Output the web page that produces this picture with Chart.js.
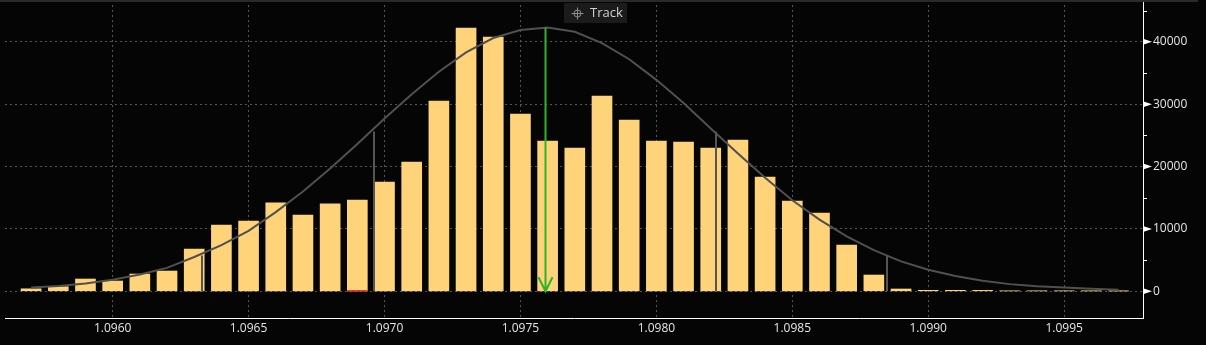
<!DOCTYPE html>
<html>
<head>
<meta charset="utf-8">
<script src="https://cdn.jsdelivr.net/npm/chart.js@4"></script>
<style>
  html, body { margin: 0; padding: 0; background: #050505; }
  #wrap { width: 1206px; height: 345px; }
</style>
</head>
<body>
<div id="wrap"><canvas id="c" width="1206" height="345"></canvas></div>
<script>
// price bins (bar centres)
const binCenters = [
  1.0957, 1.0958, 1.0959, 1.0960, 1.0961, 1.0962, 1.0963, 1.0964, 1.0965, 1.0966,
  1.0967, 1.0968, 1.0969, 1.0970, 1.0971, 1.0972, 1.0973, 1.0974, 1.0975, 1.0976,
  1.0977, 1.0978, 1.0979, 1.0980, 1.0981, 1.0982, 1.0983, 1.0984, 1.0985, 1.0986,
  1.0987, 1.0988, 1.0989, 1.0990, 1.0991, 1.0992, 1.0993, 1.0994, 1.0995, 1.0996,
  1.0997
];
// volume per bin
const counts = [
  400, 740, 1970, 1650, 2770, 3250, 6780, 10620, 11270, 14200,
  12230, 14040, 14630, 17520, 20720, 30500, 42200, 40750, 28410, 24090,
  22970, 31300, 27450, 24090, 23930, 22970, 24250, 18320, 14470, 12550,
  7420, 2610, 370, 160, 160, 150, 60, 60, 60, 50,
  40
];
// fitted normal curve, read at each bin
const fitCurve = [
  600, 850, 1250, 1850, 2700, 3750, 5500, 7400, 9700, 12700,
  16000, 19700, 23600, 27700, 31600, 35200, 38300, 40600, 41900, 42300,
  41600, 39800, 37200, 33900, 30200, 26100, 22100, 18200, 14600, 11500,
  8800, 6600, 4800, 3450, 2450, 1700, 1150, 800, 600, 420,
  260
];
// +-1 / +-2 sigma markers
const sigmaX = [1.09633, 1.09696, 1.09822, 1.09885];
const sigmaY = [5750, 25600, 25600, 5750];
const meanX = 1.09759, meanY = 42300;
const flaggedBin = 1.0969;

const xTicks = [1.0960, 1.0965, 1.0970, 1.0975, 1.0980, 1.0985, 1.0990, 1.0995];
const yTicks = [0, 10000, 20000, 30000, 40000];
const yMinor = [5000, 15000, 25000, 35000, 45000];

const FONT = "'Open Sans', 'DejaVu Sans', sans-serif";

function noPad(s) {
  s.paddingTop = 0; s.paddingBottom = 0;
  s.paddingLeft = 0; s.paddingRight = 0;
}

// ── overlays: sigma lines, mean arrow, axis arrows, Track button ──
const overlay = {
  id: "overlay",
  afterDatasetsDraw(chart) {
    const { ctx, scales: { x, y } } = chart;
    ctx.save();
    const y0 = y.getPixelForValue(0);

    // flagged bin base
    ctx.strokeStyle = "#e03030";
    ctx.lineWidth = 1.5;
    const fx = x.getPixelForValue(flaggedBin);
    ctx.beginPath(); ctx.moveTo(fx - 10, y0 - 0.5); ctx.lineTo(fx + 10, y0 - 0.5); ctx.stroke();

    ctx.strokeStyle = "#555";
    ctx.lineWidth = 2;
    sigmaX.forEach((sx, i) => {
      const px = Math.round(x.getPixelForValue(sx));
      ctx.beginPath();
      ctx.moveTo(px, y.getPixelForValue(sigmaY[i]));
      ctx.lineTo(px, y0);
      ctx.stroke();
    });

    // mean arrow
    const mx = Math.round(x.getPixelForValue(meanX)) + 0.5;
    ctx.strokeStyle = "#2cb52c";
    ctx.lineWidth = 2;
    ctx.beginPath();
    ctx.moveTo(mx, y.getPixelForValue(meanY));
    ctx.lineTo(mx, y0);
    ctx.moveTo(mx - 7, y0 - 14);
    ctx.lineTo(mx, y0);
    ctx.lineTo(mx + 7, y0 - 14);
    ctx.stroke();
    ctx.restore();
  },
  afterDraw(chart) {
    const { ctx, scales: { y }, chartArea } = chart;
    ctx.save();
    const ax = chartArea.right;
    // minor ticks
    ctx.strokeStyle = "#fff";
    ctx.lineWidth = 1;
    yMinor.forEach(v => {
      const py = Math.round(y.getPixelForValue(v)) + 0.5;
      ctx.beginPath(); ctx.moveTo(ax, py); ctx.lineTo(ax + 4, py); ctx.stroke();
    });
    // major tick arrows
    ctx.fillStyle = "#fff";
    yTicks.forEach(v => {
      const py = y.getPixelForValue(v);
      ctx.beginPath();
      ctx.moveTo(ax, py - 3);
      ctx.lineTo(ax + 9, py);
      ctx.lineTo(ax, py + 3);
      ctx.closePath();
      ctx.fill();
    });

    // top strip
    ctx.fillStyle = "#2a2a2a";
    ctx.fillRect(0, 0, 1198, 2);

    // Track button
    ctx.fillStyle = "#1b1b1b";
    ctx.fillRect(564, 3, 63, 20);
    ctx.strokeStyle = "#8a8a8a";
    ctx.lineWidth = 1;
    const cx = 577.5, cy = 13.5;
    ctx.beginPath(); ctx.arc(cx, cy, 3.5, 0, Math.PI * 2); ctx.stroke();
    ctx.beginPath();
    ctx.moveTo(cx - 6, cy); ctx.lineTo(cx + 6, cy);
    ctx.moveTo(cx, cy - 6); ctx.lineTo(cx, cy + 6);
    ctx.stroke();
    ctx.fillStyle = "#d0d0d0";
    ctx.font = "13px " + FONT;
    ctx.textBaseline = "middle";
    ctx.textAlign = "left";
    ctx.fillText("Track", 590, 13);
    ctx.restore();
  }
};

new Chart(document.getElementById("c"), {
  type: "bar",
  data: {
    datasets: [
      {
        type: "line",
        data: binCenters.map((v, i) => ({ x: v, y: fitCurve[i] })),
        borderColor: "#505050",
        borderWidth: 2,
        pointRadius: 0,
        tension: 0,
        order: 0
      },
      {
        type: "bar",
        data: binCenters.map((v, i) => ({ x: v, y: counts[i] })),
        backgroundColor: "#ffd37a",
        barThickness: 20,
        grouped: false,
        order: 1
      }
    ]
  },
  options: {
    responsive: false,
    animation: false,
    layout: { padding: { left: 5, top: 0, right: 0, bottom: 0 } },
    plugins: { legend: { display: false }, tooltip: { enabled: false } },
    scales: {
      x: {
        type: "linear",
        min: 1.095604,
        max: 1.09979,
        offset: false,
        afterBuildTicks: s => { s.ticks = xTicks.map(v => ({ value: v })); },
        afterFit: s => { s.height = 27; noPad(s); },
        grid: { color: "#555", lineWidth: 1, drawTicks: false, offset: false },
        border: { display: true, color: "#fff", width: 1, dash: [2, 3] },
        ticks: {
          color: "#e6e6e6",
          padding: 3,
          maxRotation: 0,
          autoSkip: false,
          font: { size: 12, family: FONT },
          callback: v => v.toFixed(4)
        }
      },
      y: {
        position: "right",
        min: -4280,
        max: 46700,
        afterBuildTicks: s => { s.ticks = yTicks.map(v => ({ value: v })); },
        afterFit: s => { s.width = 63; noPad(s); },
        grid: { color: "#555", lineWidth: 1, drawTicks: false },
        border: { display: true, color: "#fff", width: 1, dash: [2, 3] },
        ticks: {
          color: "#e6e6e6",
          padding: 10,
          font: { size: 12, family: FONT },
          callback: v => String(v)
        }
      }
    }
  },
  plugins: [overlay]
});
</script>
</body>
</html>
